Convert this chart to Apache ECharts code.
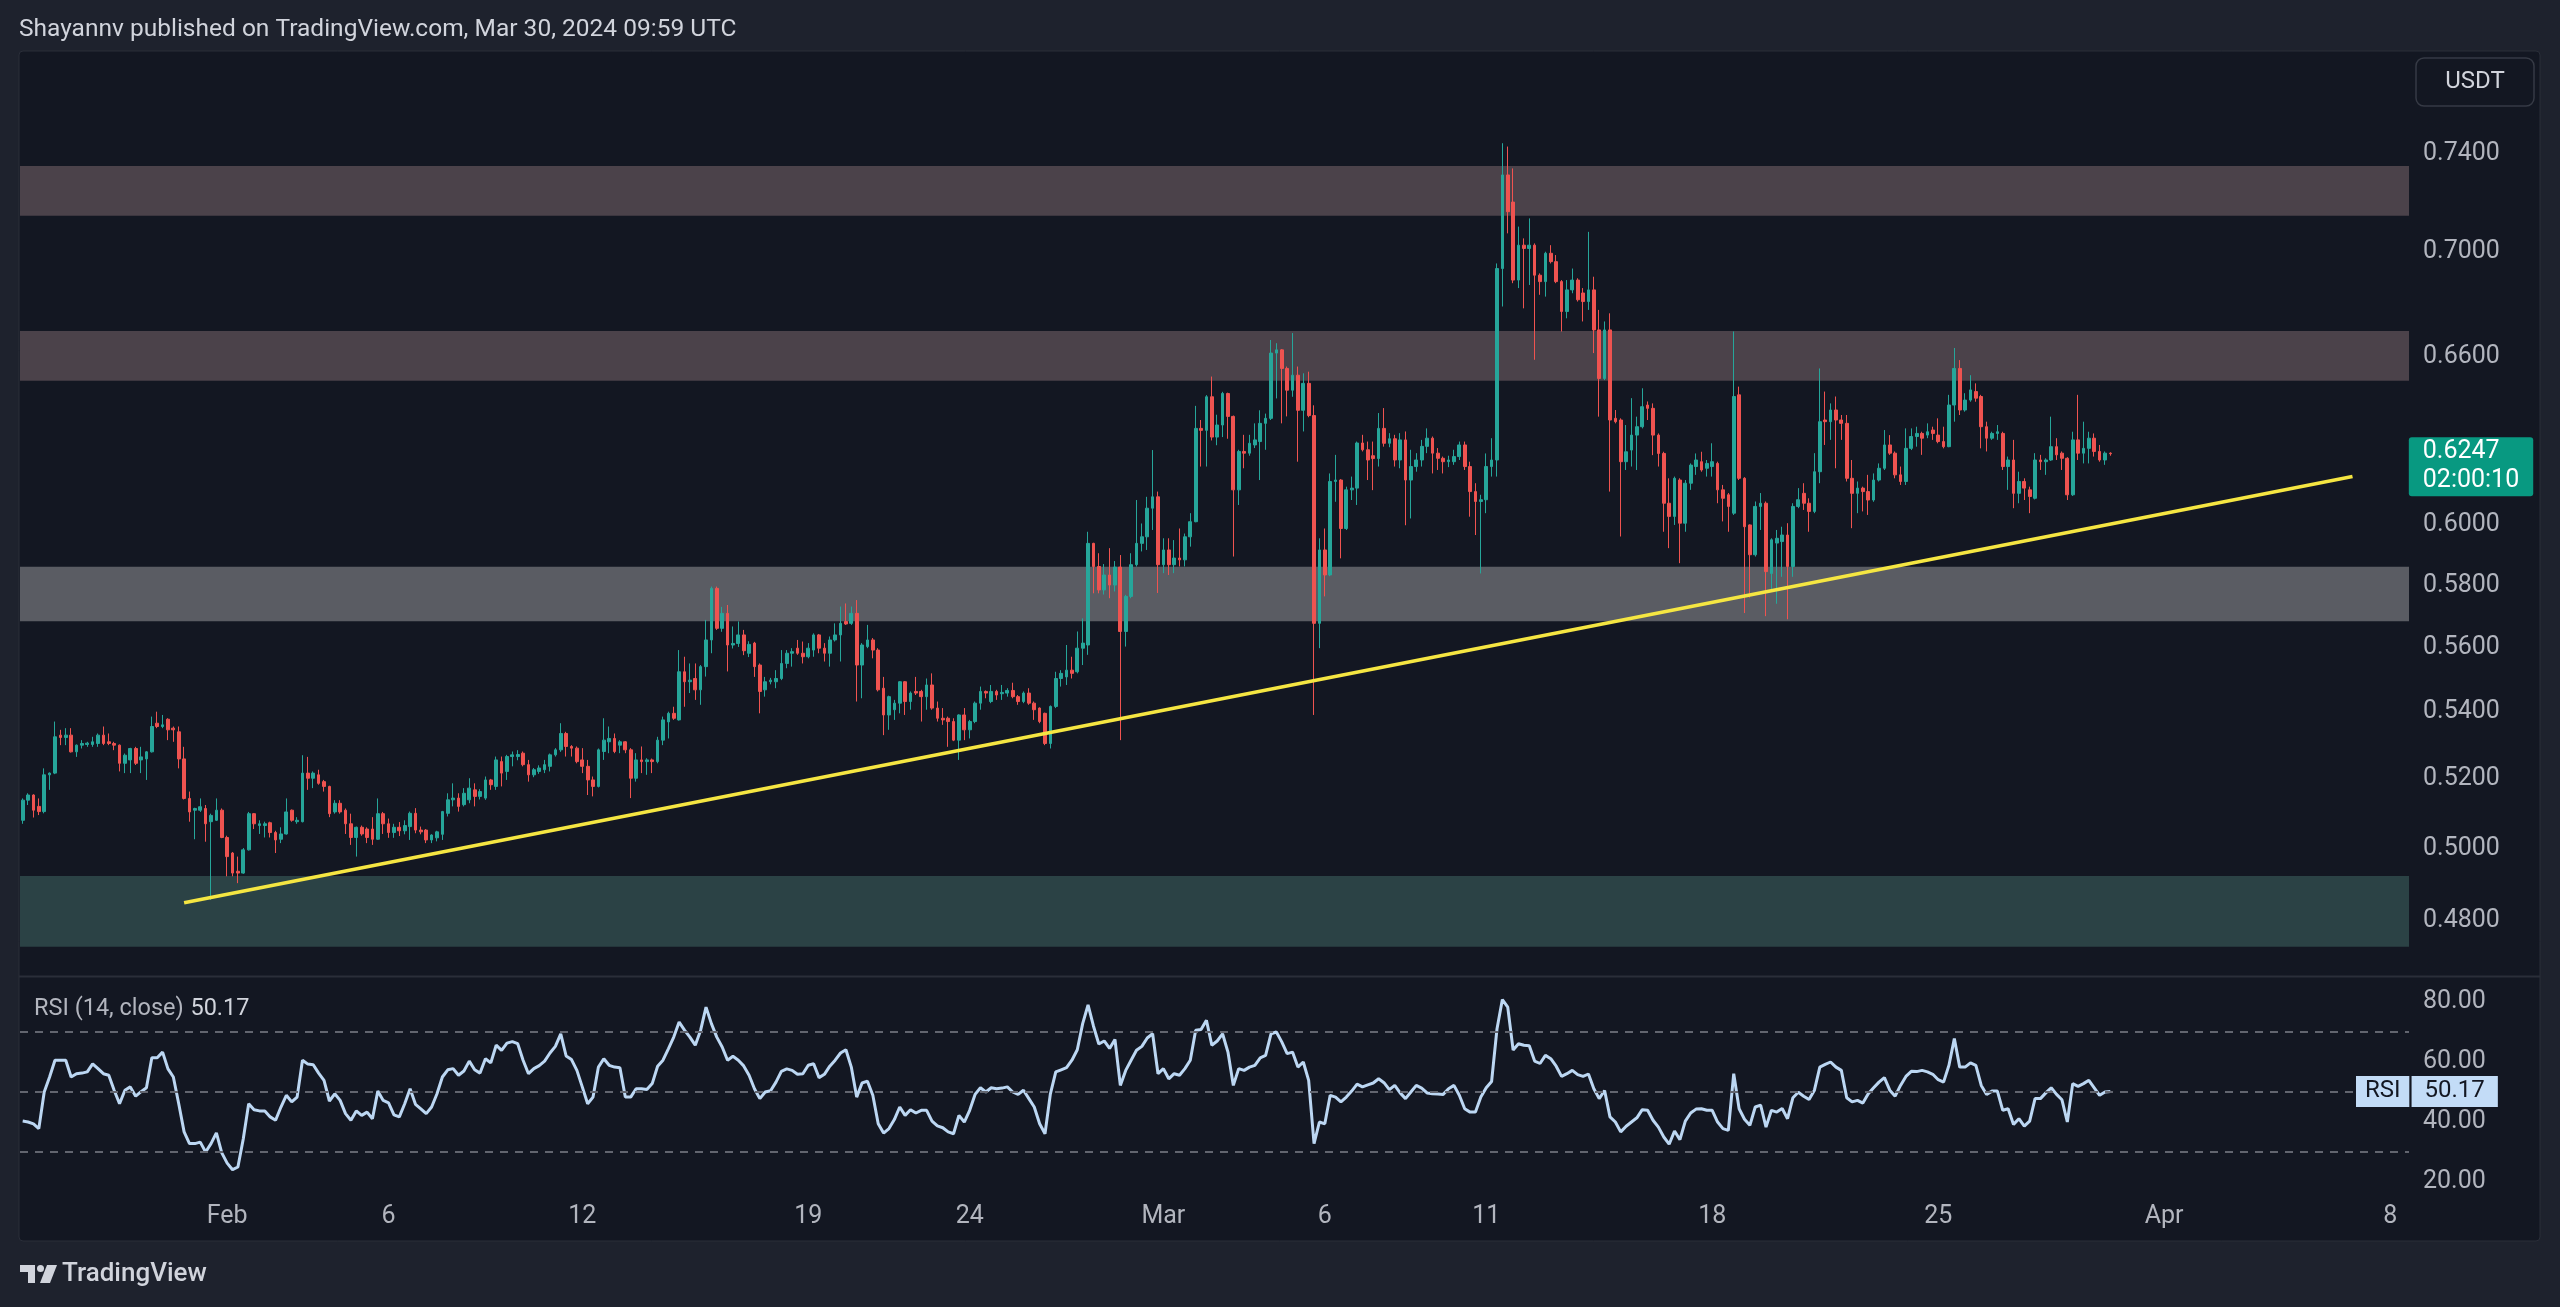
<!DOCTYPE html>
<html>
<head>
<meta charset="utf-8">
<script src="https://cdn.jsdelivr.net/npm/echarts@6/dist/echarts.min.js"></script>
<style>
html,body{margin:0;padding:0;background:#1e222d;}
#c{width:2560px;height:1307px;}
</style>
</head>
<body>
<div id="c"></div>
<script>
// ---------- DATA ----------
// 4h candles from 2024-01-25 16:00 UTC, each [open, close, low, high]
const candles = [
[0.5080,0.5138,0.5070,0.5143],[0.5138,0.5153,0.5124,0.5158],[0.5153,0.5109,0.5088,0.5155],[0.5120,0.5105,0.5095,0.5143],
[0.5105,0.5212,0.5100,0.5231],[0.5212,0.5217,0.5168,0.5219],[0.5217,0.5325,0.5214,0.5371],[0.5330,0.5323,0.5300,0.5346],
[0.5323,0.5330,0.5300,0.5351],[0.5330,0.5280,0.5278,0.5351],[0.5280,0.5300,0.5265,0.5302],[0.5300,0.5305,0.5290,0.5315],
[0.5302,0.5306,0.5295,0.5310],[0.5302,0.5310,0.5295,0.5325],[0.5305,0.5330,0.5295,0.5335],[0.5330,0.5305,0.5300,0.5356],
[0.5310,0.5305,0.5300,0.5335],[0.5305,0.5300,0.5285,0.5310],[0.5300,0.5246,0.5222,0.5302],[0.5246,0.5270,0.5217,0.5275],
[0.5256,0.5290,0.5217,0.5292],[0.5290,0.5246,0.5241,0.5295],[0.5256,0.5265,0.5217,0.5295],[0.5259,0.5280,0.5197,0.5282],
[0.5280,0.5356,0.5278,0.5386],[0.5366,0.5356,0.5351,0.5401],[0.5356,0.5361,0.5351,0.5391],[0.5378,0.5346,0.5315,0.5381],
[0.5351,0.5346,0.5310,0.5356],[0.5340,0.5259,0.5231,0.5356],[0.5259,0.5143,0.5140,0.5295],[0.5143,0.5104,0.5076,0.5163],
[0.5109,0.5114,0.5026,0.5116],[0.5109,0.5119,0.5104,0.5143],[0.5114,0.5070,0.5019,0.5124],[0.5076,0.5094,0.4857,0.5099],
[0.5080,0.5109,0.5078,0.5143],[0.5109,0.5031,0.5029,0.5114],[0.5031,0.4977,0.4922,0.5036],[0.4987,0.4931,0.4922,0.4990],
[0.4936,0.4931,0.4903,0.4977],[0.4931,0.4996,0.4929,0.5001],[0.4996,0.5099,0.4994,0.5104],[0.5099,0.5070,0.5055,0.5101],
[0.5065,0.5070,0.5041,0.5080],[0.5065,0.5070,0.5031,0.5076],[0.5073,0.5045,0.5031,0.5076],[0.5045,0.5024,0.4987,0.5050],
[0.5026,0.5041,0.5015,0.5060],[0.5041,0.5104,0.5039,0.5143],[0.5109,0.5080,0.5076,0.5111],[0.5076,0.5080,0.5070,0.5089],
[0.5076,0.5217,0.5074,0.5270],[0.5217,0.5202,0.5168,0.5265],[0.5202,0.5217,0.5173,0.5222],[0.5212,0.5187,0.5183,0.5227],
[0.5192,0.5178,0.5163,0.5197],[0.5178,0.5099,0.5089,0.5180],[0.5104,0.5129,0.5099,0.5138],[0.5129,0.5104,0.5099,0.5138],
[0.5109,0.5070,0.5041,0.5114],[0.5070,0.5031,0.5010,0.5099],[0.5031,0.5060,0.4977,0.5062],[0.5060,0.5041,0.5036,0.5065],
[0.5055,0.5031,0.5015,0.5060],[0.5055,0.5026,0.5010,0.5089],[0.5026,0.5099,0.5024,0.5143],[0.5099,0.5070,0.5041,0.5104],
[0.5070,0.5045,0.5030,0.5085],[0.5045,0.5060,0.5030,0.5070],[0.5060,0.5050,0.5035,0.5075],[0.5050,0.5065,0.5040,0.5080],
[0.5062,0.5100,0.5024,0.5105],[0.5100,0.5052,0.5043,0.5115],[0.5052,0.5047,0.5040,0.5062],[0.5052,0.5024,0.5015,0.5055],
[0.5024,0.5038,0.5015,0.5040],[0.5030,0.5047,0.5020,0.5050],[0.5040,0.5105,0.5024,0.5107],[0.5100,0.5139,0.5091,0.5158],
[0.5139,0.5144,0.5120,0.5187],[0.5144,0.5120,0.5105,0.5158],[0.5125,0.5158,0.5120,0.5173],[0.5139,0.5173,0.5129,0.5202],
[0.5168,0.5149,0.5120,0.5187],[0.5149,0.5163,0.5140,0.5170],[0.5144,0.5197,0.5139,0.5207],[0.5197,0.5183,0.5168,0.5200],
[0.5178,0.5256,0.5168,0.5266],[0.5251,0.5217,0.5178,0.5266],[0.5222,0.5266,0.5197,0.5271],[0.5266,0.5271,0.5237,0.5281],
[0.5266,0.5272,0.5255,0.5285],[0.5276,0.5242,0.5237,0.5281],[0.5242,0.5212,0.5192,0.5256],[0.5212,0.5227,0.5205,0.5232],
[0.5222,0.5232,0.5215,0.5240],[0.5227,0.5242,0.5217,0.5256],[0.5237,0.5271,0.5222,0.5275],[0.5271,0.5286,0.5266,0.5291],
[0.5286,0.5335,0.5280,0.5366],[0.5335,0.5296,0.5266,0.5340],[0.5296,0.5291,0.5266,0.5300],[0.5291,0.5251,0.5246,0.5296],
[0.5256,0.5237,0.5217,0.5291],[0.5237,0.5197,0.5153,0.5256],[0.5197,0.5178,0.5149,0.5207],[0.5178,0.5286,0.5175,0.5290],
[0.5281,0.5315,0.5256,0.5381],[0.5310,0.5320,0.5276,0.5356],[0.5320,0.5281,0.5276,0.5335],[0.5300,0.5310,0.5276,0.5315],
[0.5310,0.5286,0.5276,0.5312],[0.5286,0.5202,0.5144,0.5291],[0.5202,0.5256,0.5192,0.5276],[0.5256,0.5251,0.5217,0.5296],
[0.5251,0.5256,0.5212,0.5261],[0.5256,0.5251,0.5217,0.5260],[0.5251,0.5315,0.5246,0.5325],[0.5315,0.5376,0.5300,0.5386],
[0.5370,0.5396,0.5320,0.5401],[0.5396,0.5381,0.5376,0.5416],[0.5376,0.5524,0.5374,0.5592],[0.5524,0.5493,0.5416,0.5571],
[0.5493,0.5498,0.5458,0.5550],[0.5503,0.5468,0.5437,0.5550],[0.5468,0.5540,0.5422,0.5545],[0.5540,0.5624,0.5509,0.5688],
[0.5624,0.5790,0.5582,0.5796],[0.5790,0.5661,0.5656,0.5796],[0.5661,0.5709,0.5650,0.5730],[0.5709,0.5608,0.5525,0.5736],
[0.5608,0.5613,0.5597,0.5667],[0.5613,0.5640,0.5602,0.5683],[0.5640,0.5590,0.5576,0.5656],[0.5582,0.5610,0.5570,0.5620],
[0.5614,0.5540,0.5508,0.5618],[0.5545,0.5463,0.5396,0.5550],[0.5468,0.5493,0.5447,0.5508],[0.5493,0.5498,0.5485,0.5505],
[0.5493,0.5503,0.5473,0.5529],[0.5503,0.5550,0.5498,0.5592],[0.5550,0.5582,0.5535,0.5592],[0.5582,0.5587,0.5540,0.5598],
[0.5598,0.5582,0.5577,0.5624],[0.5582,0.5571,0.5550,0.5619],[0.5571,0.5598,0.5566,0.5614],[0.5592,0.5640,0.5571,0.5645],
[0.5640,0.5598,0.5582,0.5643],[0.5598,0.5582,0.5556,0.5614],[0.5582,0.5624,0.5540,0.5635],[0.5624,0.5640,0.5619,0.5677],
[0.5640,0.5677,0.5556,0.5731],[0.5683,0.5675,0.5672,0.5741],[0.5677,0.5709,0.5672,0.5731],[0.5709,0.5545,0.5432,0.5752],
[0.5545,0.5608,0.5442,0.5614],[0.5603,0.5624,0.5598,0.5672],[0.5624,0.5592,0.5566,0.5630],[0.5592,0.5468,0.5463,0.5598],
[0.5473,0.5391,0.5330,0.5508],[0.5391,0.5447,0.5346,0.5450],[0.5407,0.5427,0.5376,0.5437],[0.5427,0.5493,0.5396,0.5495],
[0.5493,0.5432,0.5391,0.5495],[0.5432,0.5458,0.5407,0.5463],[0.5463,0.5458,0.5452,0.5508],[0.5463,0.5447,0.5371,0.5468],
[0.5447,0.5483,0.5407,0.5503],[0.5483,0.5412,0.5407,0.5519],[0.5412,0.5381,0.5371,0.5432],[0.5381,0.5376,0.5361,0.5412],
[0.5381,0.5371,0.5295,0.5386],[0.5371,0.5315,0.5312,0.5381],[0.5315,0.5391,0.5256,0.5393],[0.5391,0.5346,0.5315,0.5412],
[0.5346,0.5371,0.5320,0.5376],[0.5371,0.5427,0.5366,0.5432],[0.5427,0.5463,0.5407,0.5478],[0.5463,0.5458,0.5442,0.5466],
[0.5432,0.5463,0.5427,0.5483],[0.5463,0.5452,0.5437,0.5468],[0.5456,0.5460,0.5437,0.5483],[0.5458,0.5466,0.5447,0.5473],
[0.5466,0.5447,0.5442,0.5490],[0.5447,0.5432,0.5422,0.5452],[0.5432,0.5458,0.5427,0.5463],[0.5458,0.5427,0.5422,0.5473],
[0.5427,0.5407,0.5376,0.5432],[0.5412,0.5371,0.5366,0.5414],[0.5396,0.5305,0.5300,0.5398],[0.5305,0.5417,0.5290,0.5420],
[0.5417,0.5503,0.5412,0.5524],[0.5503,0.5519,0.5478,0.5529],[0.5508,0.5529,0.5483,0.5608],[0.5529,0.5519,0.5503,0.5571],
[0.5524,0.5598,0.5519,0.5651],[0.5598,0.5614,0.5545,0.5693],[0.5608,0.5939,0.5577,0.5978],[0.5939,0.5862,0.5774,0.5941],
[0.5862,0.5785,0.5774,0.5906],[0.5785,0.5834,0.5770,0.5870],[0.5834,0.5801,0.5758,0.5923],[0.5801,0.5860,0.5780,0.5880],
[0.5860,0.5651,0.5315,0.5900],[0.5651,0.5764,0.5603,0.5769],[0.5764,0.5868,0.5758,0.5906],[0.5868,0.5939,0.5862,0.6086],
[0.5939,0.5961,0.5912,0.6006],[0.5961,0.6058,0.5917,0.6097],[0.6058,0.6097,0.5984,0.6260],[0.6097,0.5868,0.5775,0.6115],
[0.5868,0.5917,0.5840,0.5956],[0.5917,0.5868,0.5834,0.5956],[0.5868,0.5890,0.5840,0.5950],[0.5890,0.5884,0.5862,0.5989],
[0.5884,0.5961,0.5862,0.5972],[0.5961,0.6012,0.5928,0.6041],[0.6012,0.6337,0.6010,0.6418],[0.6337,0.6330,0.6202,0.6367],
[0.6330,0.6451,0.6202,0.6457],[0.6451,0.6306,0.6294,0.6525],[0.6306,0.6349,0.6277,0.6386],[0.6349,0.6463,0.6306,0.6469],
[0.6463,0.6380,0.6300,0.6466],[0.6380,0.6121,0.5895,0.6383],[0.6121,0.6255,0.6069,0.6261],[0.6255,0.6249,0.6196,0.6314],
[0.6249,0.6284,0.6240,0.6314],[0.6278,0.6296,0.6267,0.6355],[0.6290,0.6355,0.6155,0.6402],[0.6355,0.6373,0.6261,0.6390],
[0.6373,0.6612,0.6367,0.6661],[0.6612,0.6624,0.6445,0.6649],[0.6624,0.6555,0.6355,0.6627],[0.6555,0.6475,0.6380,0.6562],
[0.6475,0.6530,0.6451,0.6687],[0.6530,0.6402,0.6219,0.6562],[0.6402,0.6500,0.6326,0.6537],[0.6500,0.6383,0.6377,0.6543],
[0.6383,0.5677,0.5391,0.6420],[0.5677,0.5917,0.5598,0.5956],[0.5917,0.5834,0.5764,0.5989],[0.5834,0.6150,0.5830,0.6178],
[0.6150,0.6155,0.6080,0.6243],[0.6155,0.5989,0.5889,0.6158],[0.5989,0.6121,0.5984,0.6132],[0.6121,0.6127,0.6086,0.6167],
[0.6127,0.6285,0.6069,0.6290],[0.6285,0.6261,0.6255,0.6314],[0.6261,0.6225,0.6155,0.6290],[0.6240,0.6230,0.6120,0.6290],
[0.6230,0.6337,0.6202,0.6392],[0.6337,0.6284,0.6272,0.6410],[0.6284,0.6300,0.6270,0.6320],[0.6300,0.6225,0.6202,0.6314],
[0.6225,0.6296,0.6196,0.6320],[0.6296,0.6155,0.6000,0.6326],[0.6155,0.6202,0.6023,0.6261],[0.6202,0.6225,0.6184,0.6249],
[0.6225,0.6273,0.6202,0.6296],[0.6273,0.6302,0.6249,0.6337],[0.6302,0.6249,0.6178,0.6308],[0.6249,0.6231,0.6190,0.6267],
[0.6231,0.6219,0.6178,0.6237],[0.6219,0.6225,0.6200,0.6240],[0.6219,0.6237,0.6208,0.6261],[0.6237,0.6278,0.6225,0.6290],
[0.6278,0.6202,0.6190,0.6290],[0.6202,0.6115,0.6029,0.6219],[0.6115,0.6081,0.5967,0.6144],[0.6081,0.6087,0.5839,0.6104],
[0.6087,0.6202,0.6041,0.6248],[0.6202,0.6225,0.6167,0.6302],[0.6225,0.6935,0.6167,0.6955],[0.6935,0.7311,0.6788,0.7443],
[0.7311,0.7161,0.7074,0.7429],[0.7200,0.6890,0.6878,0.7338],[0.6890,0.7027,0.6859,0.7101],[0.7027,0.7014,0.6781,0.7054],
[0.7014,0.7027,0.6871,0.7134],[0.7027,0.6909,0.6587,0.7034],[0.6909,0.6884,0.6833,0.6916],[0.6884,0.6995,0.6826,0.7001],
[0.6995,0.6962,0.6955,0.7027],[0.6962,0.6884,0.6878,0.6988],[0.6884,0.6769,0.6693,0.6890],[0.6769,0.6852,0.6743,0.6890],
[0.6852,0.6890,0.6839,0.6935],[0.6890,0.6814,0.6807,0.6897],[0.6840,0.6807,0.6731,0.6859],[0.6807,0.6852,0.6775,0.7080],
[0.6852,0.6699,0.6612,0.6903],[0.6699,0.6518,0.6379,0.6775],[0.6518,0.6699,0.6512,0.6731],[0.6699,0.6367,0.6115,0.6762],
[0.6373,0.6361,0.6355,0.6403],[0.6367,0.6219,0.5962,0.6373],[0.6219,0.6254,0.6190,0.6349],[0.6260,0.6313,0.6202,0.6446],
[0.6313,0.6343,0.6190,0.6379],[0.6343,0.6415,0.6337,0.6482],[0.6421,0.6409,0.6367,0.6434],[0.6409,0.6313,0.6242,0.6427],
[0.6313,0.6248,0.6202,0.6319],[0.6248,0.6075,0.5978,0.6254],[0.6075,0.6030,0.5923,0.6161],[0.6030,0.6161,0.6001,0.6167],
[0.6155,0.6007,0.5873,0.6161],[0.6007,0.6144,0.5978,0.6155],[0.6144,0.6207,0.6121,0.6213],[0.6202,0.6225,0.6173,0.6248],
[0.6219,0.6190,0.6184,0.6254],[0.6196,0.6213,0.6167,0.6225],[0.6202,0.6219,0.6167,0.6284],[0.6213,0.6121,0.6075,0.6219],
[0.6121,0.6092,0.6013,0.6138],[0.6104,0.6064,0.5978,0.6110],[0.6041,0.6452,0.6035,0.6693],[0.6458,0.6161,0.6155,0.6488],
[0.6161,0.5995,0.5710,0.6165],[0.6001,0.5901,0.5760,0.6003],[0.5901,0.6064,0.5895,0.6081],[0.6064,0.6075,0.5984,0.6110],
[0.6075,0.5845,0.5700,0.6081],[0.5839,0.5951,0.5780,0.5956],[0.5940,0.5956,0.5740,0.5984],[0.5945,0.5967,0.5828,0.5995],
[0.5967,0.5862,0.5690,0.6007],[0.5862,0.6064,0.5828,0.6075],[0.6064,0.6087,0.6058,0.6127],[0.6109,0.6075,0.6052,0.6144],
[0.6075,0.6047,0.5978,0.6092],[0.6047,0.6184,0.6041,0.6249],[0.6184,0.6361,0.6144,0.6555],[0.6367,0.6361,0.6278,0.6470],
[0.6361,0.6403,0.6296,0.6427],[0.6403,0.6367,0.6196,0.6452],[0.6367,0.6355,0.6296,0.6385],[0.6355,0.6161,0.6150,0.6385],
[0.6161,0.6109,0.5990,0.6225],[0.6109,0.6127,0.6041,0.6150],[0.6127,0.6115,0.6047,0.6132],[0.6115,0.6086,0.6035,0.6173],
[0.6086,0.6155,0.6080,0.6178],[0.6155,0.6196,0.6150,0.6213],[0.6196,0.6278,0.6190,0.6331],[0.6278,0.6249,0.6243,0.6313],
[0.6249,0.6173,0.6161,0.6255],[0.6173,0.6150,0.6138,0.6202],[0.6150,0.6266,0.6138,0.6337],[0.6266,0.6308,0.6260,0.6337],
[0.6308,0.6319,0.6272,0.6343],[0.6319,0.6302,0.6243,0.6325],[0.6313,0.6325,0.6302,0.6355],[0.6331,0.6319,0.6296,0.6343],
[0.6313,0.6290,0.6284,0.6373],[0.6290,0.6272,0.6266,0.6343],[0.6272,0.6421,0.6270,0.6458],[0.6421,0.6555,0.6361,0.6631],
[0.6555,0.6403,0.6385,0.6586],[0.6403,0.6439,0.6397,0.6464],[0.6439,0.6476,0.6433,0.6530],[0.6470,0.6446,0.6433,0.6500],
[0.6452,0.6343,0.6266,0.6458],[0.6343,0.6302,0.6255,0.6361],[0.6302,0.6319,0.6296,0.6325],[0.6319,0.6325,0.6296,0.6349],
[0.6319,0.6202,0.6190,0.6325],[0.6202,0.6225,0.6121,0.6237],[0.6225,0.6109,0.6058,0.6296],[0.6109,0.6150,0.6075,0.6184],
[0.6150,0.6127,0.6086,0.6161],[0.6121,0.6098,0.6041,0.6132],[0.6092,0.6225,0.6088,0.6249],[0.6225,0.6219,0.6190,0.6243],
[0.6219,0.6225,0.6173,0.6231],[0.6225,0.6272,0.6222,0.6379],[0.6272,0.6243,0.6225,0.6302],[0.6249,0.6231,0.6190,0.6255],
[0.6231,0.6104,0.6086,0.6235],[0.6104,0.6296,0.6100,0.6325],[0.6296,0.6249,0.6225,0.6458],[0.6249,0.6266,0.6213,0.6361],
[0.6266,0.6302,0.6213,0.6325],[0.6302,0.6255,0.6237,0.6319],[0.6255,0.6225,0.6219,0.6278],[0.6225,0.6249,0.6208,0.6255],
[0.6249,0.6247,0.6240,0.6252]
];

const rsi = [
40.3,40.0,39.4,37.8,50.0,55.0,60.6,60.6,60.6,55.0,
56.1,56.3,56.7,59.4,57.8,56.1,55.6,50.6,46.1,50.6,
51.7,48.6,50.1,51.4,61.4,61.4,63.3,57.7,55.0,46.1,
36.7,32.8,32.8,33.3,30.0,32.8,36.4,29.7,26.3,24.1,
25.0,34.4,46.1,44.1,43.7,43.7,41.7,40.6,45.0,48.9,
46.7,48.3,60.6,59.3,59.1,56.3,53.9,47.0,49.4,47.2,
42.8,40.6,43.7,42.2,43.3,41.1,50.3,47.2,46.4,42.4,
41.7,46.1,51.1,45.9,44.4,42.8,45.0,49.4,55.0,57.4,
57.8,55.6,57.0,60.3,57.4,56.3,61.1,59.7,65.6,63.9,
66.3,66.8,66.1,60.6,56.1,57.8,58.8,60.3,63.0,65.2,
69.4,62.0,60.8,57.2,51.7,46.1,48.3,58.3,61.1,58.9,
58.3,58.1,48.3,48.3,51.1,51.1,50.8,52.8,58.6,60.6,
64.4,68.3,73.3,70.6,68.3,65.6,70.6,78.3,72.8,68.3,
65.0,60.6,61.9,60.6,58.7,55.6,51.1,47.8,50.0,50.4,
53.3,56.9,57.7,57.2,55.9,56.1,58.9,59.4,54.8,55.9,
58.6,60.6,63.0,64.1,58.3,48.3,53.0,53.6,48.9,39.4,
36.3,37.8,40.8,45.0,42.2,44.1,43.0,43.9,43.9,40.3,
38.7,38.1,36.7,36.1,42.2,40.0,43.9,49.2,51.4,50.0,
51.4,51.1,51.3,51.7,50.0,49.2,50.6,47.8,45.0,39.4,
36.1,49.4,56.7,57.4,58.1,60.6,64.1,72.8,79.0,72.0,
66.0,67.0,64.5,67.5,52.2,57.2,60.6,63.9,65.2,68.0,
69.4,56.1,57.8,54.4,56.1,55.6,57.8,60.6,70.6,70.8,
73.9,65.6,67.0,69.4,63.3,52.2,57.8,57.2,58.3,58.9,
61.4,62.2,69.4,70.0,66.7,62.8,63.3,58.3,60.0,53.9,
32.8,40.0,39.4,48.9,48.3,46.7,48.3,50.3,52.6,51.7,
52.4,53.0,54.4,53.1,50.8,52.2,49.7,47.8,50.0,52.2,
51.3,49.7,49.4,49.3,49.2,51.1,52.2,48.9,44.4,43.3,
43.3,48.3,51.4,53.5,71.0,80.8,78.3,64.0,66.1,65.6,
65.4,60.3,59.5,62.2,61.1,58.6,55.2,56.1,57.2,55.8,
55.2,56.0,51.1,47.8,50.5,41.7,40.0,36.7,38.6,40.0,
41.4,44.1,43.9,40.6,38.3,35.0,32.6,37.0,34.1,40.3,
43.0,44.3,44.4,43.9,43.9,40.0,37.8,37.2,56.1,44.4,
40.9,38.9,45.0,45.6,38.3,43.9,43.3,44.5,41.1,48.1,
49.9,48.6,47.5,50.6,58.3,59.2,60.0,58.3,57.2,48.1,
46.7,47.2,46.3,49.4,51.4,53.3,54.8,50.6,48.6,52.2,
55.2,56.9,56.8,57.2,56.7,55.9,54.1,53.3,58.9,67.8,
58.3,58.3,59.7,58.9,52.2,49.2,50.3,50.3,43.9,44.4,
39.2,41.1,38.6,40.3,47.8,47.8,49.7,51.4,49.2,47.4,
40.0,52.8,51.9,52.8,53.9,51.4,48.9,50.0,50.17
];

const priceTicks = [0.48, 0.50, 0.52, 0.54, 0.56, 0.58, 0.60, 0.66, 0.70, 0.74];
const rsiTicks = [20, 40, 60, 80];
const rsiLevels = [70, 50, 30];
const timeTicks = {
  '02-01 00:00': 'Feb', '02-06 00:00': '6', '02-12 00:00': '12', '02-19 00:00': '19',
  '02-24 00:00': '24', '03-01 00:00': 'Mar', '03-06 00:00': '6', '03-11 00:00': '11',
  '03-18 00:00': '18', '03-25 00:00': '25', '04-01 00:00': 'Apr', '04-08 00:00': '8'
};
// horizontal zones [low, high]
const zoneTop = [0.7145, 0.7348];
const zoneMid = [0.6510, 0.6695];
const zoneGray = [0.5684, 0.5861];
const zoneLow = [0.4730, 0.4923];
// trend line end points [candle index, price]
const trendStart = [30, 0.4849];
const trendEnd = [433, 0.6167];
const lastPrice = 0.6247;
const lastCountdown = '02:00:10';
const lastRsi = 50.17;

// ---------- CATEGORIES (4h slots, Jan 25 16:00 -> Apr 8 12:00 UTC) ----------
const SLOTS = 444;
const t0 = Date.UTC(2024, 0, 25, 16);
const cats = [];
for (let i = 0; i < SLOTS; i++) {
  const d = new Date(t0 + i * 4 * 3600 * 1000);
  const p = n => String(n).padStart(2, '0');
  cats.push(p(d.getUTCMonth() + 1) + '-' + p(d.getUTCDate()) + ' ' + p(d.getUTCHours()) + ':00');
}

// ---------- CHART ----------
const FONT = 'Roboto, "Noto Sans", sans-serif';
const AX = '#b2b5be';
const UP = '#26a69a', DOWN = '#ef5350';
const chart = echarts.init(document.getElementById('c'), null, {renderer: 'canvas'});

const zoneItem = (z, color) => [{yAxis: z[0], itemStyle: {color: color}}, {yAxis: z[1]}];

chart.setOption({
  animation: false,
  backgroundColor: '#1e222d',
  textStyle: {fontFamily: FONT},
  grid: [
    {left: 20, right: 151, top: 51, height: 925},
    {left: 20, right: 151, top: 977, height: 218}
  ],
  xAxis: [
    {type: 'category', gridIndex: 0, data: cats, boundaryGap: true,
     axisLine: {show: false}, axisTick: {show: false}, axisLabel: {show: false}, splitLine: {show: false}},
    {type: 'category', gridIndex: 1, data: cats, boundaryGap: true,
     axisLine: {show: false}, axisTick: {show: false}, splitLine: {show: false},
     axisLabel: {show: true, interval: (idx, val) => timeTicks[val] !== undefined,
       formatter: v => timeTicks[v] || '', color: AX, fontSize: 25, margin: 9, fontFamily: FONT}}
  ],
  yAxis: [
    {type: 'log', logBase: 10, gridIndex: 0, position: 'right', min: 0.46528, max: 0.78405,
     axisLine: {show: false}, axisTick: {show: false}, splitLine: {show: false},
     axisLabel: {customValues: priceTicks, formatter: v => Number(v).toFixed(4),
       color: AX, fontSize: 25, margin: 14, fontFamily: FONT}},
    {type: 'value', gridIndex: 1, position: 'right', min: 15.67, max: 88.33,
     axisLine: {show: false}, axisTick: {show: false}, splitLine: {show: false},
     axisLabel: {customValues: rsiTicks, formatter: v => Number(v).toFixed(2),
       color: AX, fontSize: 25, margin: 14, fontFamily: FONT}}
  ],
  series: [
    {
      type: 'candlestick', xAxisIndex: 0, yAxisIndex: 0, data: candles, clip: false,
      barWidth: 3.2,
      itemStyle: {color: UP, color0: DOWN, borderColor: UP, borderColor0: DOWN, borderWidth: 1},
      markArea: {
        silent: true,
        data: [
          zoneItem(zoneTop, '#4b424a'),
          zoneItem(zoneMid, '#4b424a'),
          zoneItem(zoneGray, '#5a5c63'),
          zoneItem(zoneLow, '#2b4245')
        ]
      },
      markLine: {
        silent: true, symbol: 'none', animation: false,
        label: {show: false},
        lineStyle: {color: '#f5e642', width: 3.5, type: 'solid'},
        data: [[{coord: trendStart}, {coord: trendEnd}]]
      },
      markPoint: {
        silent: true, animation: false,
        data: [{
          coord: [SLOTS - 1, lastPrice], symbol: 'rect', symbolSize: [1, 1],
          itemStyle: {color: 'rgba(0,0,0,0)'},
          label: {show: true, position: 'right', distance: 2, offset: [0, 13],
            formatter: lastPrice.toFixed(4) + '\n' + lastCountdown,
            color: '#ffffff', fontSize: 25, lineHeight: 29, fontFamily: FONT,
            backgroundColor: '#089981', padding: [1, 14, 0, 14], borderRadius: 3, align: 'left'}
        }]
      }
    },
    {
      type: 'line', xAxisIndex: 1, yAxisIndex: 1, data: rsi, showSymbol: false, symbol: 'none',
      lineStyle: {color: '#bcd7f3', width: 3}, silent: true,
      markLine: {
        silent: true, symbol: 'none', animation: false, label: {show: false},
        lineStyle: {color: '#62656f', width: 2, type: [8, 7]},
        data: rsiLevels.map(v => ({yAxis: v}))
      },
      markPoint: {
        silent: true, animation: false,
        data: [{
          coord: [433, lastRsi], symbol: 'rect', symbolSize: [1, 1],
          itemStyle: {color: 'rgba(0,0,0,0)'},
          label: {show: true, position: 'right', distance: 3,
            formatter: '{a|RSI}{d|}{b|' + lastRsi.toFixed(2) + '}',
            rich: {
              a: {backgroundColor: '#c3dcf7', color: '#131722', fontSize: 24, fontFamily: FONT,
                  height: 31, lineHeight: 31, padding: [0, 9]},
              d: {backgroundColor: '#131722', width: 2, height: 31},
              b: {backgroundColor: '#c3dcf7', color: '#131722', fontSize: 24, fontFamily: FONT,
                  height: 31, lineHeight: 31, padding: [0, 13]}
            }}
        }]
      }
    }
  ],
  graphic: [
    {type: 'rect', z: -10, silent: true,
     shape: {x: 19, y: 51, width: 2521, height: 1190, r: 4},
     style: {fill: '#131722', stroke: '#2a2e39', lineWidth: 1}},
    {type: 'line', z: -9, silent: true,
     shape: {x1: 19, y1: 976.5, x2: 2540, y2: 976.5},
     style: {stroke: '#2a2e39', lineWidth: 2}},
    {type: 'text', silent: true, x: 19, y: 30,
     style: {text: 'Shayannv published on TradingView.com, Mar 30, 2024 09:59 UTC',
       fill: '#d1d4dc', font: '24.5px ' + FONT, verticalAlign: 'middle'}},
    {type: 'rect', silent: true,
     shape: {x: 2416, y: 58, width: 118, height: 48, r: 8},
     style: {fill: 'rgba(0,0,0,0)', stroke: '#363a45', lineWidth: 1.5}},
    {type: 'text', silent: true, x: 2475, y: 82,
     style: {text: 'USDT', fill: '#d1d4dc', font: '24px ' + FONT, align: 'center', verticalAlign: 'middle'}},
    {type: 'text', silent: true, x: 34, y: 1009,
     style: {text: '{a|RSI (14, close)}  {b|' + lastRsi.toFixed(2) + '}',
       verticalAlign: 'middle',
       rich: {a: {fill: '#b2b5be', font: '23.5px ' + FONT}, b: {fill: '#d1d4dc', font: '23.5px ' + FONT}}}},
    {type: 'group', x: 20, y: 1265, silent: true, children: [
      {type: 'polygon', shape: {points: [[0,0],[15,0],[15,18],[8,18],[8,7],[0,7]]}, style: {fill: '#d1d4dc'}},
      {type: 'circle', shape: {cx: 20.5, cy: 3.5, r: 3.5}, style: {fill: '#d1d4dc'}},
      {type: 'polygon', shape: {points: [[27,0],[37,0],[30,18],[20,18]]}, style: {fill: '#d1d4dc'}}
    ]},
    {type: 'text', silent: true, x: 62, y: 1274,
     style: {text: 'TradingView', fill: '#d1d4dc', font: '500 26px ' + FONT, verticalAlign: 'middle'}}
  ]
});
</script>
</body>
</html>
